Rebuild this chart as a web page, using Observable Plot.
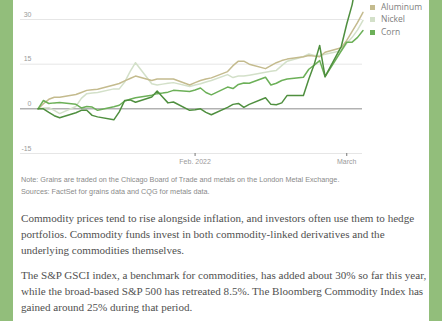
<!DOCTYPE html>
<html>
<head>
<meta charset="utf-8">
<script src="https://cdn.jsdelivr.net/npm/d3@7"></script>
<script src="https://cdn.jsdelivr.net/npm/@observablehq/plot@0.6"></script>
<style>
  html, body { margin: 0; padding: 0; }
  body { width: 442px; height: 321px; position: relative; overflow: hidden; background: #92be7b; }
  #panel { position: absolute; left: 13px; top: 0; width: 416px; height: 321px; background: #ffffff; }
  #chart { position: absolute; left: 0; top: 0; }
  #legend { position: absolute; left: 370px; top: 0; font-family: "Open Sans", "Liberation Sans", sans-serif; font-size: 8.5px; color: #808080; }
  .li { position: absolute; left: 0; white-space: nowrap; height: 12px; line-height: 12px; }
  .sw { position: absolute; left: 0; top: 4px; width: 5px; height: 5px; }
  .lt { position: absolute; left: 11px; top: 0; }
  #note { position: absolute; left: 21px; top: 174px; font-family: "Liberation Sans", Arial, sans-serif; font-size: 7.25px; line-height: 12px; color: #8a8a8a; white-space: nowrap; }
  #body { position: absolute; left: 21px; top: 210px; font-family: "Liberation Serif", "DejaVu Serif", serif; font-size: 11.1px; line-height: 16px; color: #505050; white-space: nowrap; }
  #body .p2 { margin-top: 9px; }
</style>
</head>
<body>
<div id="panel"></div>
<div id="chart"></div>
<div id="legend"></div>
<div id="note"></div>
<div id="body"></div>
<script>
// ---- data ----
const dates = [
  "2022-01-03","2022-01-04","2022-01-05","2022-01-06","2022-01-07",
  "2022-01-10","2022-01-11","2022-01-12","2022-01-13","2022-01-14",
  "2022-01-17","2022-01-18","2022-01-19","2022-01-20","2022-01-21",
  "2022-01-24","2022-01-25","2022-01-26","2022-01-27","2022-01-28",
  "2022-01-31","2022-02-01","2022-02-02","2022-02-03","2022-02-04",
  "2022-02-07","2022-02-08","2022-02-09","2022-02-10","2022-02-11",
  "2022-02-14","2022-02-15","2022-02-16","2022-02-17","2022-02-18",
  "2022-02-21","2022-02-22","2022-02-23","2022-02-24","2022-02-25",
  "2022-02-28","2022-03-01","2022-03-02","2022-03-03","2022-03-04"
];
const nickel = [
  0, 0.3, 0.4, -0.5, -1.6,
  0.8, 3.5, 5.1, 5.3, 5.5,
  6.7, 6.7, 9, 12.5, 15.5,
  8.4, 8, 8.3, 8.6, 8.8,
  7.5, 8, 8.4, 9, 9.5,
  11.5, 10.5, 11, 11, 11.3,
  12.3, 12.6, 12.9, 14.5, 16,
  17.5, 18.4, 17.9, 17.9, 18.3,
  19.5, 22, 24, 26.5, 29.7
];
const aluminum = [
  0, 1.7, 3.2, 3.9, 3.9,
  4.8, 5.5, 6.2, 6.4, 6.6,
  8, 8.5, 9.4, 10.2, 11,
  9.5, 10, 10, 10, 10,
  8, 8.8, 9.5, 10, 10.4,
  12.5, 14.5, 16, 16, 15,
  13.5, 14.5, 15.5, 16.2, 16.7,
  17.5, 17.9, 17.7, 17.5, 19,
  20.5, 23, 26, 29, 32.4
];
const corn = [
  0, 2.8, 1.8, 2, 2.1,
  1.5, 0.3, 0.8, 0.6, -0.5,
  0.7, 1.2, 2.6, 3.2, 3.7,
  4.6, 5.1, 5.3, 5.6, 6.2,
  5.8, 6.3, 7, 5.5, 4.7,
  7.3, 6.8, 8.2, 8.7, 8.6,
  10.6, 8, 8.6, 9.5, 10,
  10.6, 13.3, 14.7, 16.2, 10.8,
  19.5, 22.4, 22.4, 24, 26.3
];
const wheat = [
  0, 0, -1.2, -2.3, -3,
  -1.3, -0.5, -0.5, -2.2, -2.7,
  -3.7, -1, 2.8, 3, 2.2,
  4, 6, 4, 2, 2.3,
  -0.5, -0.3, 0, -1.2, -2,
  0.5, 1.5, 1.8, 0.5, 1.5,
  3.7, 1.5, 1.4, 2, 4.5,
  4.5, 10, 15, 21.3, 10.8,
  21, 28.5, 35, 45, 55
];
const seriesNames = ["Nickel", "Aluminum", "Corn", "Wheat"];
const seriesValues = [nickel, aluminum, corn, wheat];
const seriesColors = ["#d3e0c9", "#c4bb8e", "#6cb058", "#4f8f3f"];
const legendNames = ["Aluminum", "Nickel", "Corn"];
const yTicks = [-15, 0, 15, 30];
const xTicks = ["2022-02-01", "2022-03-01"];
const xTickLabels = ["Feb. 2022", "March"];
const noteLines = [
  "Note: Grains are traded on the Chicago Board of Trade and metals on the London Metal Exchange.",
  "Sources: FactSet for grains data and CQG for metals data."
];
const para1 = [
  "Commodity prices tend to rise alongside inflation, and investors often use them to hedge",
  "portfolios. Commodity funds invest in both commodity-linked derivatives and the",
  "underlying commodities themselves."
];
const para2 = [
  "The S&P GSCI index, a benchmark for commodities, has added about 30% so far this year,",
  "while the broad-based S&P 500 has retreated 8.5%. The Bloomberg Commodity Index has",
  "gained around 25% during that period."
];

// ---- build ----
const rows = seriesNames.flatMap((s, i) =>
  dates.map((d, j) => ({series: s, date: new Date(d), value: seriesValues[i][j]})));
const xTickDates = xTicks.map(d => new Date(d));

const chart = Plot.plot({
  width: 442,
  height: 170,
  marginTop: 19,
  marginBottom: 17,
  marginLeft: 20,
  marginRight: 80,
  style: {fontFamily: '"Liberation Sans", Arial, sans-serif', fontSize: "7px", color: "#9a9a9a", background: "transparent"},
  x: {type: "utc", domain: [new Date(dates[0]), new Date(dates[dates.length - 1])], range: [37.5, 362.5]},
  y: {domain: [-15, 30]},
  color: {domain: seriesNames, range: seriesColors},
  marks: [
    Plot.ruleY(yTicks.filter(d => d !== 0), {stroke: "#e6e6e6", strokeWidth: 1}),
    Plot.ruleY([0], {stroke: "#8c8c8c", strokeWidth: 1}),
    Plot.axisY(yTicks, {anchor: "left", tickSize: 0, tickPadding: 0, dx: 11, dy: -5, textAnchor: "end", tickFormat: d => String(d), label: null}),
    Plot.axisX(xTickDates, {anchor: "bottom", tickSize: 3, tickPadding: 3, stroke: "#777", tickFormat: (d, i) => xTickLabels[i], label: null}),
    Plot.line(rows, {x: "date", y: "value", z: "series", stroke: "series", strokeWidth: 1.5, curve: "linear"})
  ]
});
document.getElementById("chart").appendChild(chart);

// legend
const legend = document.getElementById("legend");
legendNames.forEach((name, i) => {
  const item = document.createElement("div");
  item.className = "li";
  item.style.top = (1 + i * 12.3) + "px";
  const sw = document.createElement("div");
  sw.className = "sw";
  sw.style.background = seriesColors[seriesNames.indexOf(name)];
  const t = document.createElement("div");
  t.className = "lt";
  t.textContent = name;
  item.appendChild(sw);
  item.appendChild(t);
  legend.appendChild(item);
});

// note
const note = document.getElementById("note");
noteLines.forEach(l => { const d = document.createElement("div"); d.textContent = l; note.appendChild(d); });

// body text
const body = document.getElementById("body");
[para1, para2].forEach((p, k) => {
  const pd = document.createElement("div");
  if (k === 1) pd.className = "p2";
  p.forEach(l => { const d = document.createElement("div"); d.textContent = l; pd.appendChild(d); });
  body.appendChild(pd);
});
</script>
</body>
</html>
